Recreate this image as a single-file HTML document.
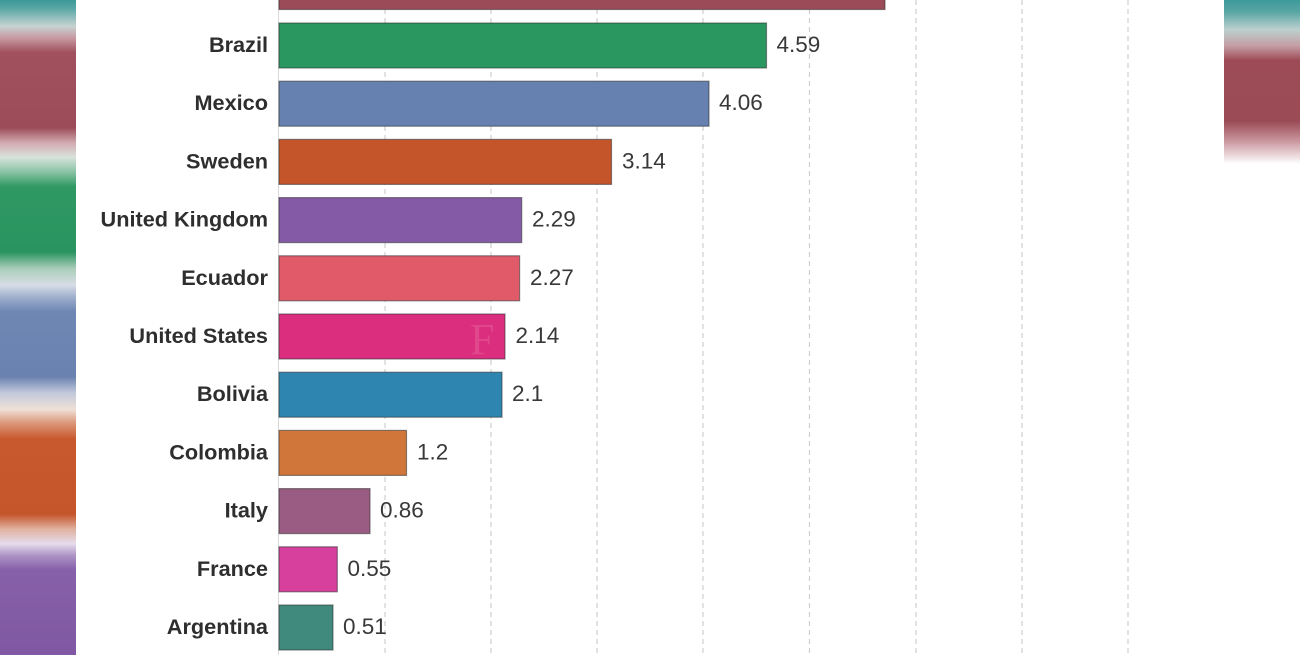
<!DOCTYPE html>
<html>
<head>
<meta charset="utf-8">
<style>
  html,body{margin:0;padding:0;background:#fff;}
  svg{display:block;}
  .lab{font-family:"Liberation Sans",sans-serif;font-weight:bold;font-size:21.7px;fill:#2e2e2e;text-anchor:end;}
  .val{font-family:"Liberation Sans",sans-serif;font-size:22.5px;fill:#383838;}
</style>
</head>
<body>
<svg width="1300" height="655" viewBox="0 0 1300 655" xmlns="http://www.w3.org/2000/svg">
  <defs>
    <linearGradient id="lg" x1="0" y1="0" x2="0" y2="655" gradientUnits="userSpaceOnUse">
      <stop offset="0" stop-color="#3d9898"/>
      <stop offset="0.012" stop-color="#55a6a4"/>
      <stop offset="0.04" stop-color="#c6d3d2"/>
      <stop offset="0.058" stop-color="#c79aa1"/>
      <stop offset="0.08" stop-color="#a0515d"/>
      <stop offset="0.195" stop-color="#9c4c58"/>
      <stop offset="0.218" stop-color="#d2aab0"/>
      <stop offset="0.24" stop-color="#d8e2dc"/>
      <stop offset="0.262" stop-color="#8cc4a6"/>
      <stop offset="0.285" stop-color="#2f9863"/>
      <stop offset="0.385" stop-color="#2a9460"/>
      <stop offset="0.41" stop-color="#a9cdb9"/>
      <stop offset="0.435" stop-color="#d8dde6"/>
      <stop offset="0.452" stop-color="#a4b3cf"/>
      <stop offset="0.475" stop-color="#6f87b3"/>
      <stop offset="0.575" stop-color="#6a82b0"/>
      <stop offset="0.6" stop-color="#c2c9db"/>
      <stop offset="0.625" stop-color="#efe0d8"/>
      <stop offset="0.645" stop-color="#dc9a7c"/>
      <stop offset="0.67" stop-color="#c8582e"/>
      <stop offset="0.785" stop-color="#c5552b"/>
      <stop offset="0.808" stop-color="#e0b2a0"/>
      <stop offset="0.83" stop-color="#e6dcec"/>
      <stop offset="0.848" stop-color="#ae94c6"/>
      <stop offset="0.87" stop-color="#8660a8"/>
      <stop offset="1" stop-color="#8058a3"/>
    </linearGradient>
    <linearGradient id="rg" x1="0" y1="0" x2="0" y2="655" gradientUnits="userSpaceOnUse">
      <stop offset="0" stop-color="#3d9a9a"/>
      <stop offset="0.018" stop-color="#58a6a4"/>
      <stop offset="0.045" stop-color="#bcd0cf"/>
      <stop offset="0.07" stop-color="#c49ea4"/>
      <stop offset="0.092" stop-color="#9d4c57"/>
      <stop offset="0.185" stop-color="#9b4b56"/>
      <stop offset="0.215" stop-color="#c9959c"/>
      <stop offset="0.25" stop-color="#ffffff"/>
      <stop offset="1" stop-color="#ffffff"/>
    </linearGradient>
  </defs>

  <rect x="0" y="0" width="1300" height="655" fill="#ffffff"/>
  <rect x="0" y="0" width="76" height="655" fill="url(#lg)"/>
  <rect x="1224" y="0" width="76" height="655" fill="url(#rg)"/>

  <!-- grid -->
  <g stroke="#cfcfcf" stroke-width="1.2" stroke-dasharray="5 4">
    <line x1="385" y1="0" x2="385" y2="655"/>
    <line x1="491" y1="0" x2="491" y2="655"/>
    <line x1="597" y1="0" x2="597" y2="655"/>
    <line x1="703" y1="0" x2="703" y2="655"/>
    <line x1="809.5" y1="0" x2="809.5" y2="655"/>
    <line x1="916" y1="0" x2="916" y2="655"/>
    <line x1="1022" y1="0" x2="1022" y2="655"/>
    <line x1="1128" y1="0" x2="1128" y2="655"/>
  </g>
  <line x1="278.5" y1="0" x2="278.5" y2="655" stroke="#d8d8d8" stroke-width="1"/>

  <!-- bars -->
  <g stroke-width="1.2" stroke-opacity="0.55" stroke="#333">
    <rect x="279" y="-36" width="606" height="45.5" fill="#9b4b58"/>
    <rect x="279" y="23" width="487.5" height="45" fill="#2a9660"/>
    <rect x="279" y="81.2" width="430" height="45" fill="#6680b0"/>
    <rect x="279" y="139.4" width="332.5" height="45" fill="#c4552a"/>
    <rect x="279" y="197.6" width="242.7" height="45" fill="#8459a6"/>
    <rect x="279" y="255.8" width="240.6" height="45" fill="#e05a6a"/>
    <rect x="279" y="314" width="226" height="45" fill="#dc2e7e"/>
    <rect x="279" y="372.2" width="223" height="45" fill="#2e86b0"/>
    <rect x="279" y="430.4" width="127.5" height="45" fill="#d0763a"/>
    <rect x="279" y="488.6" width="91" height="45" fill="#9a5c82"/>
    <rect x="279" y="546.8" width="58.3" height="45" fill="#d8409e"/>
    <rect x="279" y="605" width="54" height="45" fill="#3f8a7c"/>
  </g>

  <!-- watermark -->
  <text x="470" y="354" font-family="Liberation Serif, serif" font-size="44" fill="#ffffff" fill-opacity="0.12">F</text>

  <!-- country labels -->
  <text class="lab" x="268" y="52">Brazil</text>
  <text class="lab" x="268" y="110.2">Mexico</text>
  <text class="lab" x="268" y="168.4">Sweden</text>
  <text class="lab" x="268" y="226.6">United Kingdom</text>
  <text class="lab" x="268" y="284.8">Ecuador</text>
  <text class="lab" x="268" y="343">United States</text>
  <text class="lab" x="268" y="401.2">Bolivia</text>
  <text class="lab" x="268" y="459.4">Colombia</text>
  <text class="lab" x="268" y="517.6">Italy</text>
  <text class="lab" x="268" y="575.8">France</text>
  <text class="lab" x="268" y="634">Argentina</text>

  <!-- value labels -->
  <text class="val" x="776.5" y="52">4.59</text>
  <text class="val" x="719" y="110.2">4.06</text>
  <text class="val" x="622" y="168.4">3.14</text>
  <text class="val" x="532" y="226.6">2.29</text>
  <text class="val" x="530" y="284.8">2.27</text>
  <text class="val" x="515.5" y="343">2.14</text>
  <text class="val" x="512" y="401.2">2.1</text>
  <text class="val" x="417" y="459.4">1.2</text>
  <text class="val" x="380" y="517.6">0.86</text>
  <text class="val" x="347.5" y="575.8">0.55</text>
  <text class="val" x="343" y="634">0.51</text>
</svg>
</body>
</html>
